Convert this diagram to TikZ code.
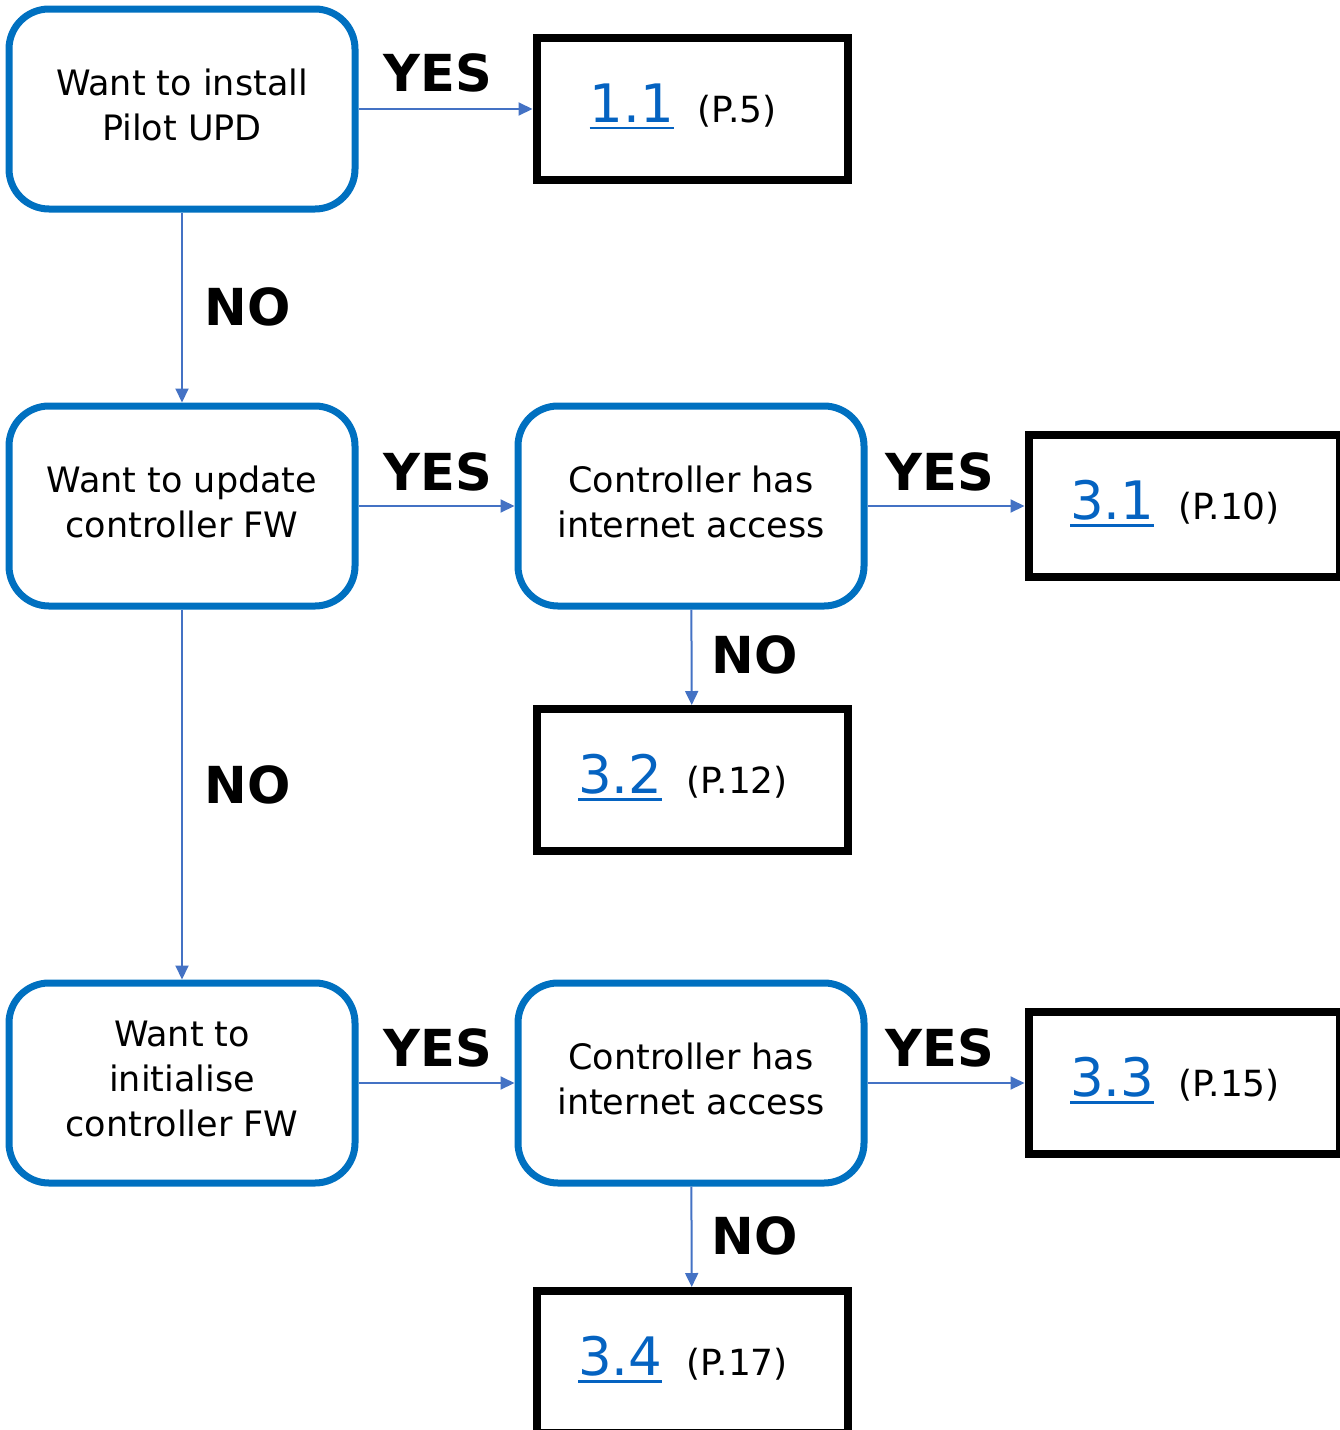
\documentclass[tikz,border=0pt]{standalone}
\usepackage{fontspec}
\setmainfont{DejaVu Sans}
\usetikzlibrary{arrows.meta}
\definecolor{boxblue}{HTML}{0070C0}
\definecolor{arrowblue}{HTML}{4472C4}
\definecolor{linkblue}{HTML}{0563C1}
% underlined section number, as a link
\newcommand{\seclink}[1]{\textcolor{linkblue}{\setbox0\hbox{#1}\rlap{\raisebox{-7pt}{\rule{\wd0}{2.5pt}}}\box0}}
\newcommand{\secpage}[2]{\seclink{#1}\hspace{24pt}{\fontsize{36}{36}\selectfont(P.#2)}\rule{18pt}{0pt}}

\begin{document}
\begin{tikzpicture}[x=1pt, y=-1pt, >={Triangle[length=14pt,width=13pt]}]
        \tikzstyle{question}=[draw=boxblue, line width=7pt, rounded corners=40pt, minimum width=346pt, minimum height=200pt, inner sep=0pt, align=center, text depth=9pt, font=\fontsize{35}{45}\selectfont]
        \tikzstyle{target}=[draw=black, line width=8pt, minimum width=311pt, minimum height=142pt, inner sep=0pt, text depth=12pt, font=\fontsize{53}{53}\selectfont]
        \tikzstyle{answer}=[font=\fontsize{51}{51}\selectfont\bfseries]
        \tikzstyle{flow}=[draw=arrowblue, line width=2pt]

        \useasboundingbox (0,0) rectangle (1340,1430);

        \node[question](install) at (182,109){Want to install\\Pilot UPD};
        \node[question](update) at (182,506){Want to update\\controller FW};
        \node[question](init) at (182,1083){Want to\\initialise\\controller FW};
        \node[question](netUpd) at (691,506){Controller has\\internet access};
        \node[question](netInit) at (691,1083){Controller has\\internet access};

        \node[target](s11) at (692,109){\secpage{1.1}{5}};
        \node[target](s31) at (1184,506){\secpage{3.1}{10}};
        \node[target](s32) at (692,780){\secpage{3.2}{12}};
        \node[target](s33) at (1184,1083){\secpage{3.3}{15}};
        \node[target](s34) at (692,1362){\secpage{3.4}{17}};

        \draw[flow,->] (install) -- (s11);
        \draw[flow,->] (install) -- (update);
        \draw[flow,->] (update) -- (netUpd);
        \draw[flow,->] (netUpd) -- (s31);
        \draw[flow,->] (netUpd) -- (s32);
        \draw[flow,->] (update) -- (init);
        \draw[flow,->] (init) -- (netInit);
        \draw[flow,->] (netInit) -- (s33);
        \draw[flow,->] (netInit) -- (s34);

        \node[answer](yes1) at (438,73){YES};
        \node[answer](no1) at (248,307){NO};
        \node[answer](yes2) at (438,472){YES};
        \node[answer](yes3) at (940,472){YES};
        \node[answer](no2) at (755,655){NO};
        \node[answer](no3) at (248,785){NO};
        \node[answer](yes4) at (438,1048){YES};
        \node[answer](yes5) at (940,1048){YES};
        \node[answer](no4) at (755,1236){NO};

        \end{tikzpicture}
\end{document}
